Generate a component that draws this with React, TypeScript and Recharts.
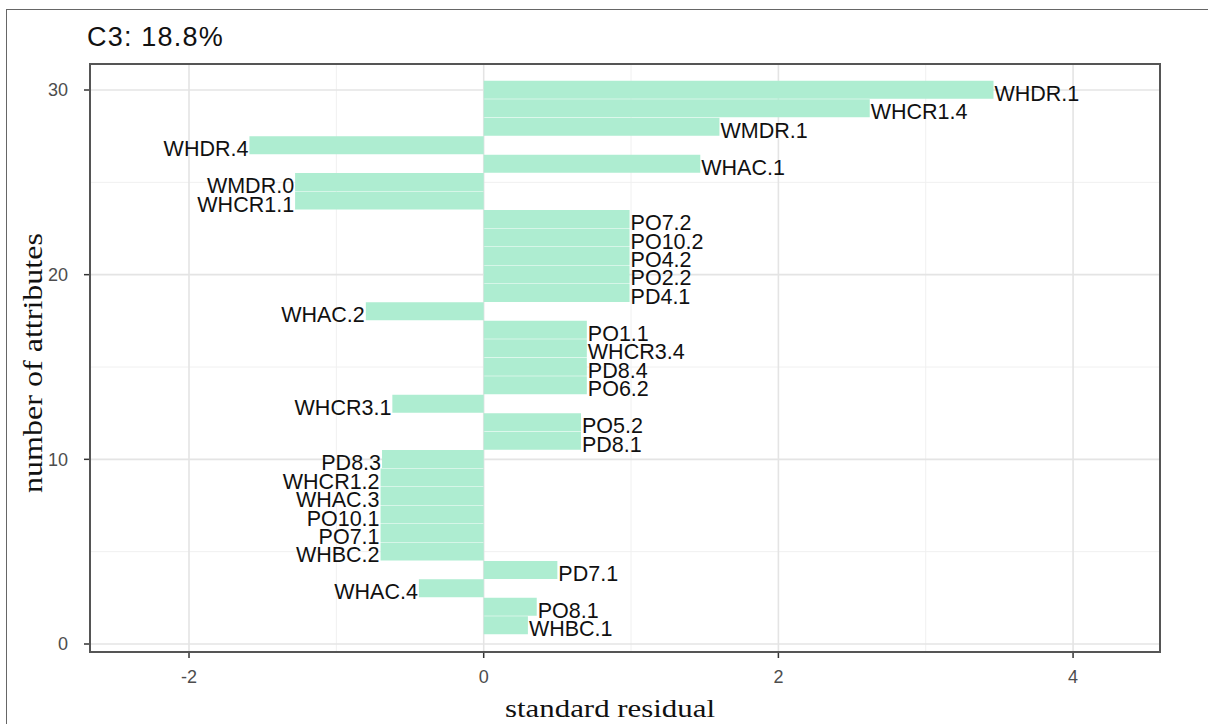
import React from 'react'
import { BarChart, Bar, XAxis, YAxis, CartesianGrid, LabelList } from 'recharts'

// rank on the y axis (number of attributes), bottom to top
const ranks = [1, 2, 3, 4, 5, 6, 7, 8, 9, 10, 11, 12, 13, 14, 15, 16, 17, 18, 19, 20, 21, 22, 23, 24, 25, 26, 27, 28, 29, 30]

const attributes = [
	'WHBC.1', 'PO8.1', 'WHAC.4', 'PD7.1', 'WHBC.2', 'PO7.1', 'PO10.1', 'WHAC.3', 'WHCR1.2', 'PD8.3',
	'PD8.1', 'PO5.2', 'WHCR3.1', 'PO6.2', 'PD8.4', 'WHCR3.4', 'PO1.1', 'WHAC.2', 'PD4.1', 'PO2.2',
	'PO4.2', 'PO10.2', 'PO7.2', 'WHCR1.1', 'WMDR.0', 'WHAC.1', 'WHDR.4', 'WMDR.1', 'WHCR1.4', 'WHDR.1'
]

// standard residuals
const residuals = [
	0.3, 0.36, -0.44, 0.5, -0.7, -0.7, -0.7, -0.7, -0.7, -0.69,
	0.66, 0.66, -0.62, 0.7, 0.7, 0.7, 0.7, -0.8, 0.99, 0.99,
	0.99, 0.99, 0.99, -1.28, -1.28, 1.47, -1.59, 1.6, 2.62, 3.46
]

const xTicks = [-2, 0, 2, 4]
const yTicks = [0, 10, 20, 30]
const xMinor = [-1, 1, 3]
const yMinor = [5, 15, 25]

const data = ranks.map((rank, i) => ({ rank, attribute: attributes[i], residual: residuals[i] }))

const sans = '"Liberation Sans", Arial, sans-serif'
const serif = '"Liberation Serif", "Times New Roman", serif'
const barColor = '#aeedd1'

function BarLabel(props: any) {
	const vb = props.viewBox ?? props
	const left = Math.min(vb.x, vb.x + vb.width)
	const right = Math.max(vb.x, vb.x + vb.width)
	const top = Math.min(vb.y, vb.y + vb.height)
	const cy = top + Math.abs(vb.height) / 2
	const neg = residuals[props.index] < 0
	return (
		<text
			x={neg ? left - 1 : right + 1}
			y={cy + 11}
			textAnchor={neg ? 'end' : 'start'}
			fontFamily={sans}
			fontSize={21.5}
			fill="#111"
		>
			{props.value}
		</text>
	)
}

export default function App() {
	const tick = { fill: '#4d4d4d', fontSize: 18, fontFamily: sans }
	return (
		<div style={{ position: 'absolute', left: 0, top: 0, width: 1208, height: 724, overflow: 'hidden', background: '#fff' }}>
			<div style={{ position: 'absolute', left: 6, top: 9, width: 1220, height: 740, border: '1px solid #666' }} />
			<div
				style={{
					position: 'absolute', left: 87, top: 24, fontFamily: sans, fontSize: 27,
					lineHeight: '27px', letterSpacing: 1.2, color: '#111'
				}}
			>
				C3: 18.8%
			</div>
			<div style={{ position: 'absolute', left: 0, top: 0 }}>
				<BarChart
					width={1208}
					height={724}
					data={data}
					layout="vertical"
					barCategoryGap={0}
					barGap={0}
					margin={{ top: 64, right: 48, bottom: 32, left: 30 }}
				>
					<CartesianGrid
						stroke="#f0f0f0"
						strokeWidth={1}
						verticalValues={xMinor}
						horizontalValues={yMinor}
					/>
					<CartesianGrid stroke="#e4e4e4" strokeWidth={1.6} />
					<XAxis
						type="number"
						dataKey="residual"
						domain={[-2.672, 4.59]}
						ticks={xTicks}
						allowDataOverflow
						axisLine={false}
						tickLine={{ stroke: '#333', strokeWidth: 1.5 }}
						tickSize={6}
						tickMargin={12}
						height={40}
						tick={tick}
					/>
					<YAxis
						type="number"
						dataKey="rank"
						domain={[-0.433, 31.408]}
						ticks={yTicks}
						reversed
						allowDataOverflow
						axisLine={false}
						tickLine={{ stroke: '#333', strokeWidth: 1.5 }}
						tickSize={6}
						tickMargin={16}
						width={60}
						tick={tick}
					/>
					<Bar dataKey="residual" fill={barColor} isAnimationActive={false}>
						<LabelList dataKey="attribute" content={BarLabel} />
					</Bar>
				</BarChart>
			</div>
			<div
				style={{
					position: 'absolute', left: 89, top: 63, width: 1072, height: 590,
					border: '2px solid #555', boxSizing: 'border-box', pointerEvents: 'none'
				}}
			/>
			<svg width={1208} height={724} style={{ position: 'absolute', left: 0, top: 0, pointerEvents: 'none' }}>
				<text
					x={610}
					y={717}
					textAnchor="middle"
					fontFamily={serif}
					fontSize={25}
					fill="#111"
					textLength={210}
					lengthAdjust="spacingAndGlyphs"
				>
					standard residual
				</text>
				<text
					x={42}
					y={363}
					transform="rotate(-90, 42, 363)"
					textAnchor="middle"
					fontFamily={serif}
					fontSize={28}
					fill="#111"
					textLength={260}
					lengthAdjust="spacingAndGlyphs"
				>
					number of attributes
				</text>
			</svg>
		</div>
	)
}
